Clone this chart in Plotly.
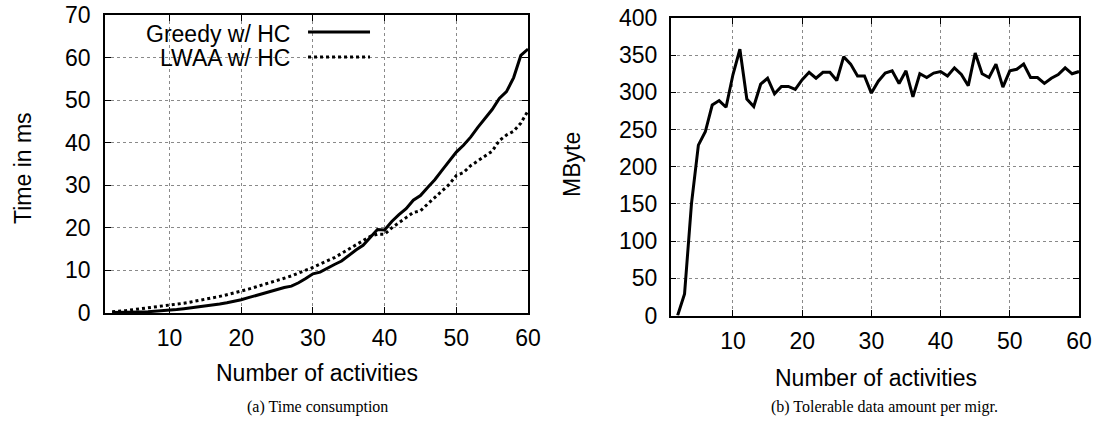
import plotly.graph_objects as go

# ---------------- data ----------------
activities_a = list(range(2, 61))
greedy_hc = [0.1, 0.1, 0.15, 0.2, 0.25, 0.3, 0.4, 0.5, 0.6, 0.8, 1.0, 1.2, 1.4, 1.6,
             1.8, 2.1, 2.4, 2.7, 3.1, 3.6, 4.1, 4.6, 5.1, 5.6, 6.0, 6.3, 7.1, 8.1,
             9.2, 9.6, 10.6, 11.4, 12.2, 13.6, 14.8, 15.9, 17.8, 19.6, 19.5, 21.5,
             23.1, 24.5, 26.5, 27.6, 29.5, 31.3, 33.5, 35.7, 37.8, 39.4, 41.3, 43.6,
             45.6, 47.8, 50.4, 52.0, 55.3, 60.5, 62.0]
lwaa_hc = [0.3, 0.4, 0.6, 0.8, 1.0, 1.2, 1.4, 1.6, 1.8, 2.0, 2.3, 2.6, 2.9, 3.2,
           3.5, 3.9, 4.3, 4.7, 5.1, 5.6, 6.1, 6.6, 7.1, 7.6, 8.1, 8.7, 9.4, 10.0,
           10.7, 11.5, 12.2, 13.0, 14.0, 15.0, 16.0, 17.1, 18.0, 18.5, 18.5, 20.0,
           21.3, 22.4, 23.6, 24.0, 25.6, 27.2, 28.6, 30.2, 32.3, 33.0, 34.6, 35.7,
           37.0, 38.0, 40.5, 41.8, 42.7, 44.6, 47.5]

activities_b = list(range(2, 61))
tolerable_mb = [0, 29, 150, 229, 247, 283, 289, 280, 324, 358, 291, 281, 311, 319,
                298, 308, 308, 304, 317, 327, 319, 327, 327, 316, 348, 338, 322, 322,
                299, 315, 326, 329, 312, 329, 294, 325, 320, 326, 328, 322, 333, 324,
                309, 353, 325, 320, 338, 307, 329, 331, 338, 320, 320, 312, 319, 324,
                333, 325, 328]

x_ticks = [10, 20, 30, 40, 50, 60]
legend_names = ["Greedy w/ HC", "LWAA w/ HC"]
x_title = "Number of activities"
y_title_a = "Time in ms"
y_title_b = "MByte"
caption_a = "(a) Time consumption"
caption_b = "(b) Tolerable data amount per migr."

# ---------------- figure ----------------
SANS = "Liberation Sans, Arial, sans-serif"
SERIF = "Liberation Serif, Times New Roman, serif"
FS = 23
W, H = 1100, 430

fig = go.Figure()
fig.add_trace(go.Scatter(x=activities_a, y=greedy_hc, mode="lines", name=legend_names[0],
                         line=dict(color="black", width=3), xaxis="x", yaxis="y"))
fig.add_trace(go.Scatter(x=activities_a, y=lwaa_hc, mode="lines", name=legend_names[1],
                         line=dict(color="black", width=3, dash="dot"), xaxis="x", yaxis="y"))
fig.add_trace(go.Scatter(x=activities_b, y=tolerable_mb, mode="lines", name="tolerable",
                         line=dict(color="black", width=3), xaxis="x2", yaxis="y2"))

common_axis = dict(
    showline=True, linecolor="black", linewidth=1.5, mirror="ticks",
    ticks="inside", ticklen=6, tickcolor="black", tickwidth=1,
    showgrid=True, gridcolor="#8a8a8a", griddash="dot", gridwidth=1,
    zeroline=False, tickfont=dict(family=SANS, size=FS, color="black"),
    automargin=False,
)

fig.update_layout(
    width=W, height=H,
    margin=dict(l=0, r=0, t=0, b=0),
    paper_bgcolor="white", plot_bgcolor="white",
    showlegend=False,
    xaxis=dict(domain=[105 / W, 528 / W], range=[1, 60], tickvals=x_ticks,
               anchor="y", ticklabelstandoff=4, **common_axis),
    yaxis=dict(domain=[1 - 313 / H, 1 - 15 / H], range=[0, 70], dtick=10,
               anchor="x", ticklabelstandoff=8, **common_axis),
    xaxis2=dict(domain=[670.7 / W, 1079 / W], range=[1, 60], tickvals=x_ticks,
                anchor="y2", ticklabelstandoff=4, **common_axis),
    yaxis2=dict(domain=[1 - 315.5 / H, 1 - 18 / H], range=[0, 400], dtick=50,
                anchor="x2", ticklabelstandoff=7, **common_axis),
)


def paper_text(text, px, py, size=FS, family=SANS, angle=0):
    return dict(text=text, x=px / W, y=1 - py / H, xref="paper", yref="paper",
                xanchor="center", yanchor="middle", showarrow=False, textangle=angle,
                font=dict(family=family, size=size, color="black"))


annotations = [
    paper_text(x_title, 317, 373),
    paper_text(x_title, 876, 378),
    paper_text(y_title_a, 23, 168, angle=-90),
    paper_text(y_title_b, 572, 165, angle=-90),
    paper_text(caption_a, 317, 407, size=16, family=SERIF),
    paper_text(caption_b, 884, 407, size=16, family=SERIF),
    # legend texts (gnuplot-style: text left of sample)
    dict(text=legend_names[0], x=0.442, y=0.936, xref="x domain", yref="y domain",
         xanchor="right", yanchor="middle", showarrow=False,
         font=dict(family=SANS, size=FS, color="black")),
    dict(text=legend_names[1], x=0.442, y=0.856, xref="x domain", yref="y domain",
         xanchor="right", yanchor="middle", showarrow=False,
         font=dict(family=SANS, size=FS, color="black")),
]
fig.update_layout(annotations=annotations)

fig.add_shape(type="line", xref="x domain", yref="y domain", x0=0.48, x1=0.6265,
              y0=0.943, y1=0.943, line=dict(color="black", width=3))
fig.add_shape(type="line", xref="x domain", yref="y domain", x0=0.48, x1=0.6265,
              y0=0.859, y1=0.859, line=dict(color="black", width=3, dash="dot"))

fig.write_html("out.html")
